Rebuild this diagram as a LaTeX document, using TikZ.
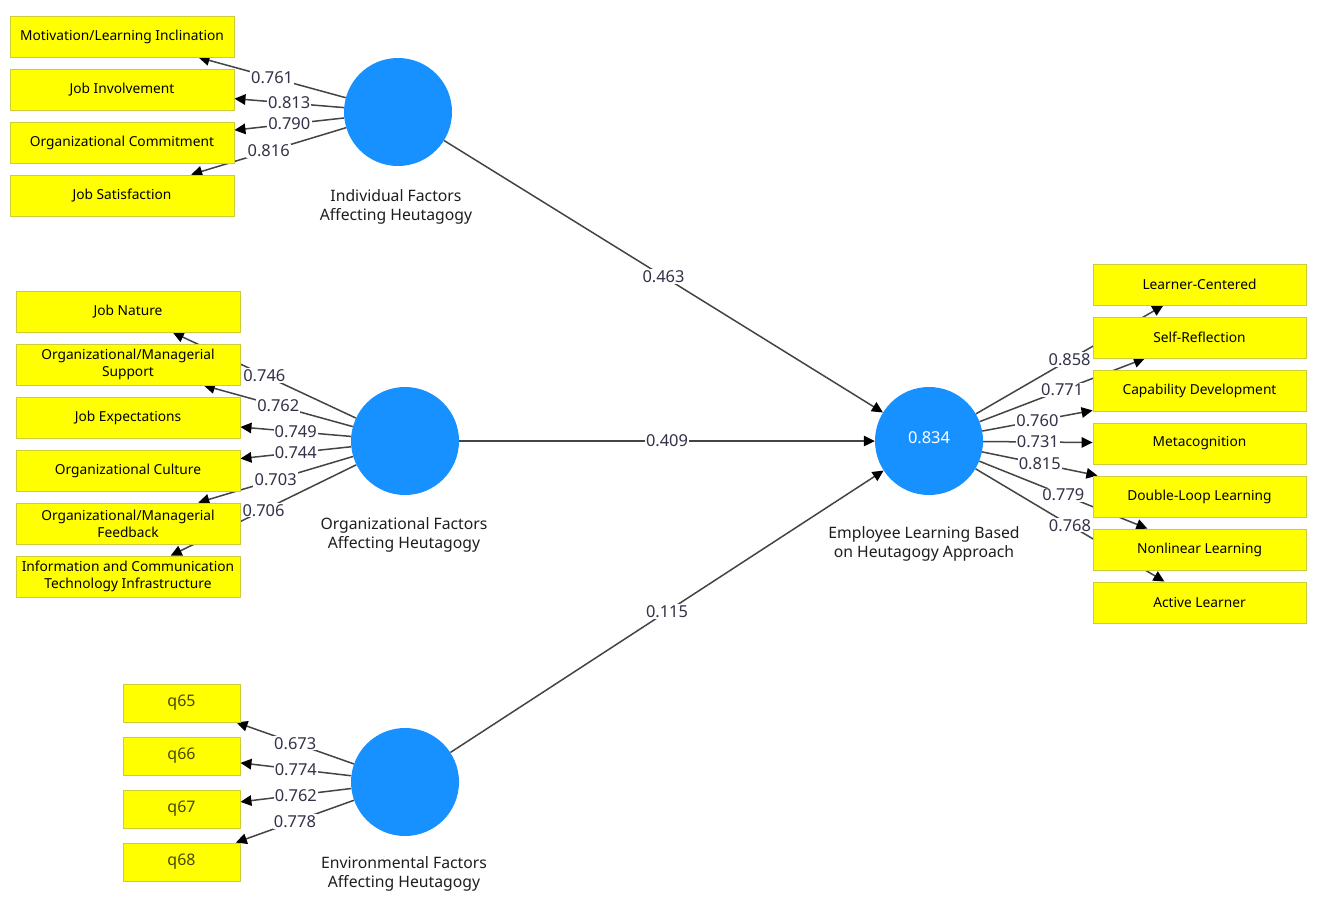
\documentclass[tikz,border=0pt]{standalone}
\usepackage{fontspec}
\setmainfont{Noto Sans}
\usetikzlibrary{arrows.meta}
\definecolor{boxyellow}{RGB}{255,255,0}
\definecolor{boxborder}{RGB}{205,205,60}
\definecolor{lvblue}{RGB}{22,145,255}
\definecolor{edgegray}{RGB}{68,68,68}
\definecolor{valtext}{RGB}{50,50,72}
\definecolor{labtext}{RGB}{30,30,30}
\definecolor{qtext}{RGB}{72,72,0}
\pgfdeclarelayer{bg}
\pgfdeclarelayer{edges}
\pgfsetlayers{bg,edges,main}
\tikzset{
  ind/.style={rectangle, draw=boxborder, fill=boxyellow, line width=0.9bp,
    minimum width=224bp, minimum height=41bp, inner sep=0pt, align=center,
    font=\fontsize{13.8}{17}\selectfont},
  qind/.style={ind, minimum width=117bp, minimum height=38bp, font=\fontsize{16}{18}\selectfont, text=qtext},
  rind/.style={ind, minimum width=213bp},
  lv/.style={circle, fill=lvblue, minimum size=108bp, inner sep=0pt},
  lvlab/.style={align=center, text=labtext, font=\fontsize{15.8}{19}\selectfont, inner sep=0pt},
  ld/.style={draw=edgegray, line width=1.5bp, -{Triangle[length=11bp,width=10.5bp,color=black]}},
  val/.style={fill=white, inner sep=1.2bp, text=valtext, font=\fontsize{16.5}{18}\selectfont}
}
\begin{document}
\begin{tikzpicture}[x=1bp,y=-1bp]
\begin{pgfonlayer}{bg}
\fill[white] (0,0) rectangle (1321,913);
\end{pgfonlayer}
\useasboundingbox (0,0) rectangle (1321,913);

% Individual factor indicators
\node[ind] (i1) at (122,36.5) {Motivation/Learning Inclination};
\node[ind] (i2) at (122,89.5) {Job Involvement};
\node[ind] (i3) at (122,142.5) {Organizational Commitment};
\node[ind] (i4) at (122,195.5) {Job Satisfaction};

% Organizational factor indicators
\node[ind] (o1) at (128,311.5) {Job Nature};
\node[ind] (o2) at (128,364.5) {Organizational/Managerial\\Support};
\node[ind] (o3) at (128,417.5) {Job Expectations};
\node[ind] (o4) at (128,470.5) {Organizational Culture};
\node[ind] (o5) at (128,523.5) {Organizational/Managerial\\Feedback};
\node[ind] (o6) at (128,576.5) {Information and Communication\\Technology Infrastructure};

% Environmental factor indicators
\node[qind] (e1) at (181.5,703) {q65};
\node[qind] (e2) at (181.5,756) {q66};
\node[qind] (e3) at (181.5,809) {q67};
\node[qind] (e4) at (181.5,862) {q68};

% Employee learning indicators
\node[rind] (r1) at (1199.5,284.5) {Learner-Centered};
\node[rind] (r2) at (1199.5,337.5) {Self-Reflection};
\node[rind] (r3) at (1199.5,390.5) {Capability Development};
\node[rind] (r4) at (1199.5,443.5) {Metacognition};
\node[rind] (r5) at (1199.5,496.5) {Double-Loop Learning};
\node[rind] (r6) at (1199.5,549.5) {Nonlinear Learning};
\node[rind] (r7) at (1199.5,602.5) {Active Learner};

% Latent variables
\node[lv] (IF) at (398,112) {};
\node[lv] (OF) at (405,441) {};
\node[lv] (EF) at (405,782) {};
\node[lv, text=white, font=\fontsize{16.5}{18}\selectfont] (EL) at (929,441) {\raisebox{6bp}{0.834}};

\node[lvlab] (IFl) at (396,207) {Individual Factors\\Affecting Heutagogy};
\node[lvlab] (OFl) at (404,535) {Organizational Factors\\Affecting Heutagogy};
\node[lvlab] (EFl) at (404,874) {Environmental Factors\\Affecting Heutagogy};
\node[lvlab] (ELl) at (924,544) {Employee Learning Based\\on Heutagogy Approach};

\def\edgelist{IF/i1/0.761, IF/i2/0.813, IF/i3/0.790, IF/i4/0.816,
  OF/o1/0.746, OF/o2/0.762, OF/o3/0.749, OF/o4/0.744, OF/o5/0.703, OF/o6/0.706,
  EF/e1/0.673, EF/e2/0.774, EF/e3/0.762, EF/e4/0.778,
  EL/r1/0.858, EL/r2/0.771, EL/r3/0.760, EL/r4/0.731, EL/r5/0.815, EL/r6/0.779, EL/r7/0.768,
  IF/EL/0.463, OF/EL/0.409, EF/EL/0.115}

\begin{pgfonlayer}{edges}
\foreach \s/\t/\v in \edgelist { \draw[ld] (\s) -- (\t); }
\end{pgfonlayer}
\foreach \s/\t/\v in \edgelist { \path (\s) -- (\t) node[val, midway] {\v}; }
\end{tikzpicture}
\end{document}
